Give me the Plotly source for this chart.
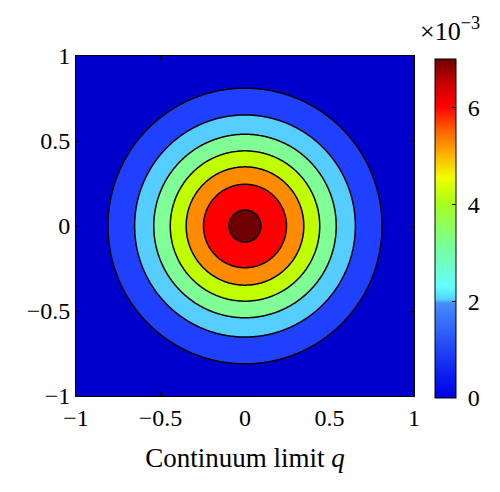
import numpy as np
import plotly.graph_objects as go

# ---- data ----
peak_value = 7.19e-3          # field maximum at the centre
decay_rate = 3.0              # Gaussian decay in r^2 (fitted to contour radii)
contour_levels = [1e-3, 2e-3, 3e-3, 4e-3, 5e-3, 6e-3, 7e-3]
x_ticks = [-1, -0.5, 0, 0.5, 1]
x_ticklabels = ["−1", "−0.5", "0", "0.5", "1"]
y_ticks = [-1, -0.5, 0, 0.5, 1]
y_ticklabels = ["−1", "−0.5", "0", "0.5", "1"]
cbar_ticks = [0, 2e-3, 4e-3, 6e-3]
cbar_ticklabels = ["0", "2", "4", "6"]

# band colours (lowest band .. highest band)
band_colors = ["rgb(0,0,205)", "rgb(32,64,255)", "rgb(85,205,255)", "rgb(128,255,150)",
               "rgb(192,255,0)", "rgb(255,140,0)", "rgb(255,0,0)", "rgb(110,0,0)"]

# modified jet for colour bar
cbar_scale = [
    [0.0, "rgb(0,0,225)"], [0.06, "rgb(10,25,240)"], [0.28, "rgb(70,140,255)"],
    [0.29, "rgb(80,210,255)"], [0.33, "rgb(100,255,255)"], [0.45, "rgb(120,255,150)"],
    [0.57, "rgb(165,255,30)"], [0.65, "rgb(240,255,0)"], [0.72, "rgb(255,175,0)"],
    [0.79, "rgb(255,95,0)"], [0.86, "rgb(255,0,0)"], [0.93, "rgb(200,0,0)"],
    [1.0, "rgb(110,0,0)"]]

grid = np.linspace(-1, 1, 301)
X, Y = np.meshgrid(grid, grid)
Z = peak_value * np.exp(-decay_rate * (X**2 + Y**2))

n = len(band_colors)
band_scale = [[k / (n - 1), c] for k, c in enumerate(band_colors)]

FONT = "Liberation Serif"

fig = go.Figure()
fig.add_trace(go.Contour(
    x=grid, y=grid, z=Z,
    contours=dict(start=contour_levels[0], end=contour_levels[-1],
                  size=contour_levels[1] - contour_levels[0], coloring="fill"),
    colorscale=band_scale, showscale=False,
    line=dict(color="black", width=1.5),
    hoverinfo="skip",
))
fig.add_trace(go.Scatter(
    x=[None], y=[None], mode="markers", showlegend=False, hoverinfo="skip",
    marker=dict(color=[0], cmin=0, cmax=7e-3, colorscale=cbar_scale, showscale=True,
                colorbar=dict(x=1.062, xanchor="left", y=0.4926, yanchor="middle",
                              len=339, lenmode="pixels", thickness=21,
                              xpad=0, ypad=0,
                              outlinecolor="black", outlinewidth=1,
                              tickvals=cbar_ticks,
                              ticktext=["\u00a0" + t for t in cbar_ticklabels],
                              ticks="inside", ticklen=4, tickcolor="black",
                              tickfont=dict(family=FONT, size=24, color="black"))),
))

axis_common = dict(range=[-1, 1], showgrid=False, zeroline=False, showline=True,
                   linecolor="black", linewidth=1, mirror="ticks", ticks="inside",
                   ticklen=4, tickcolor="black", automargin=False,
                   tickfont=dict(family=FONT, size=24, color="black"))
fig.update_xaxes(**axis_common, tickvals=x_ticks, ticktext=x_ticklabels,
                 title=dict(text="Continuum limit <i>q</i>",
                            font=dict(family=FONT, size=27, color="black"), standoff=18))
fig.update_yaxes(**axis_common, tickvals=y_ticks, ticktext=y_ticklabels)

fig.add_annotation(text="×10<sup>−3</sup>", xref="paper", yref="paper",
                   x=1.107, y=1.025, xanchor="center", yanchor="bottom", showarrow=False,
                   font=dict(family=FONT, size=26, color="black"))

fig.update_layout(width=500, height=492,
                  margin=dict(l=68, r=94, t=48, b=104, autoexpand=False),
                  paper_bgcolor="white", plot_bgcolor="white", showlegend=False)

fig.write_html("out.html")
